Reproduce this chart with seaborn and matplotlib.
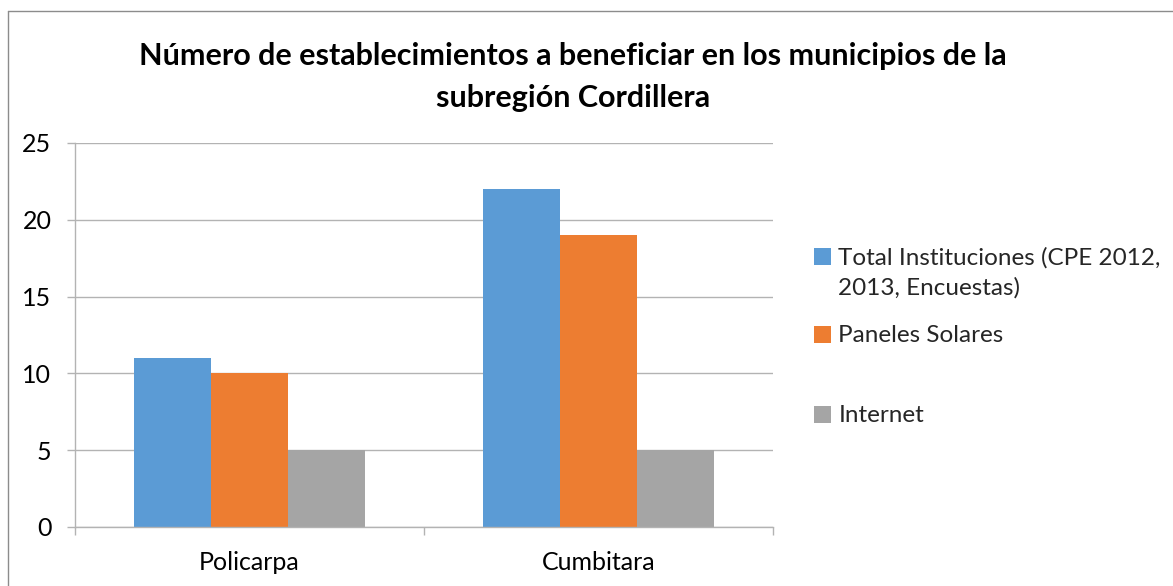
import matplotlib
matplotlib.use("Agg")
import matplotlib.pyplot as plt
import seaborn as sns
import pandas as pd
from matplotlib.patches import Patch
from matplotlib.lines import Line2D

categories = ["Policarpa", "Cumbitara"]
series = ["Total Instituciones (CPE 2012,\n2013, Encuestas)", "Paneles Solares", "Internet"]
total_instituciones = [11, 22]
paneles_solares = [10, 19]
internet = [5, 5]
colors = ["#5B9BD5", "#ED7D31", "#A5A5A5"]
y_ticks = [0, 5, 10, 15, 20, 25]
title = "Número de establecimientos a beneficiar en los municipios de la\nsubregión Cordillera"

sns.set_theme(style="white")
plt.rcParams['font.family'] = ['Lato', 'DejaVu Sans']

rows = []
for s, vals in zip(series, [total_instituciones, paneles_solares, internet]):
    for c, v in zip(categories, vals):
        rows.append({"Municipio": c, "Serie": s, "Valor": v})
df = pd.DataFrame(rows)

W, H = 1173, 586
fig = plt.figure(figsize=(W / 100, H / 100), dpi=100)
fig.patch.set_facecolor("white")
ax = fig.add_axes([75 / W, 1 - 527 / H, 698 / W, 384 / H])

sns.barplot(data=df, x="Municipio", y="Valor", hue="Serie", hue_order=series,
            order=categories, palette=colors, saturation=1, width=0.662,
            linewidth=0, legend=False, ax=ax)

grid_c = "#B3B3B3"
ax.set_xlim(-0.5, 1.5)
ax.set_ylim(0, 25)
ax.set_yticks(y_ticks)
ax.yaxis.grid(True, color=grid_c, linewidth=1)
ax.set_axisbelow(True)
ax.set_xlabel("")
ax.set_ylabel("")
for side in ["top", "right"]:
    ax.spines[side].set_visible(False)
for side in ["left", "bottom"]:
    ax.spines[side].set_color(grid_c)
    ax.spines[side].set_linewidth(1)

ax.tick_params(axis="y", which="major", length=6, width=1, color=grid_c, pad=11,
               labelsize=18, labelcolor="#000000", left=True)
ax.tick_params(axis="x", which="major", length=0, pad=17, labelsize=18, labelcolor="#000000")
ax.set_xticks([-0.5, 0.5, 1.5], minor=True)
ax.tick_params(axis="x", which="minor", length=6, width=1, color=grid_c, bottom=True)

fig.text(573 / W, 1 - 77 / H, title, ha="center", va="center", ma="center",
         fontsize=22, fontweight="bold", linespacing=1.6, color="#000000")

# legend entries
ypos = [273, 336, 416]
for i, (lab, col) in enumerate(zip(series, colors)):
    leg = fig.legend(handles=[Patch(facecolor=col, edgecolor="none")], labels=[lab],
                     loc="center left", bbox_to_anchor=(814 / W, 1 - ypos[i] / H),
                     frameon=False, handlelength=0.7, handleheight=0.7,
                     handletextpad=0.3, borderpad=0, borderaxespad=0, labelspacing=0,
                     prop={"size": 17.5})
    for txt in leg.get_texts():
        txt.set_linespacing(1.45)
    for col_box in leg._legend_handle_box.get_children():
        for row in col_box.get_children():
            row.align = "top"

# figure border (left and top visible)
fig.add_artist(Line2D([7.5 / W, 7.5 / W], [0, 1 - 10.5 / H], transform=fig.transFigure,
                      color="#8C8C8C", linewidth=1))
fig.add_artist(Line2D([7.5 / W, 1], [1 - 10.5 / H, 1 - 10.5 / H], transform=fig.transFigure,
                      color="#8C8C8C", linewidth=1))

fig.savefig("out.png", dpi=100, facecolor="white")
